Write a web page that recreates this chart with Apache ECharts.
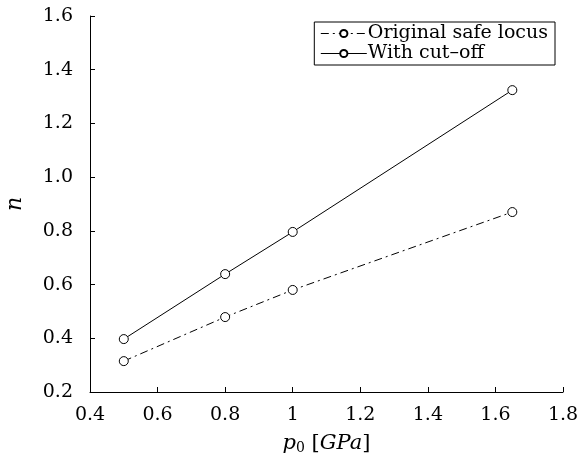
<!DOCTYPE html>
<html><head><meta charset="utf-8">
<script src="https://cdn.jsdelivr.net/npm/echarts@6/dist/echarts.min.js"></script>
<style>html,body{margin:0;padding:0;background:#fff}#c{width:588px;height:466px}</style>
</head><body><div id="c"></div>
<script>
const pressure = [0.5, 0.8, 1.0, 1.65];
const originalSafeLocus = [0.315, 0.479, 0.580, 0.870];
const withCutOff = [0.397, 0.639, 0.796, 1.324];
const seriesNames = ['Original safe locus', 'With cut\u2013off'];

const FONT = 'DejaVu Serif';
const chart = echarts.init(document.getElementById('c'));
const pairs = (xs, ys) => xs.map((x, i) => [x, ys[i]]);
const markerStyle = {color: '#fff', borderColor: '#000', borderWidth: 1};
chart.setOption({
  animation: false,
  grid: {left: 90, right: 25, top: 16, bottom: 74, containLabel: false, outerBoundsMode: 'none'},
  legend: {
    right: 33, top: 22, orient: 'vertical',
    borderColor: '#000', borderWidth: 1, padding: [2, 7, 2, 6],
    itemWidth: 46, itemHeight: 9, itemGap: 1,
    lineStyle: {width: 1},
    textStyle: {fontFamily: FONT, fontSize: 19, color: '#000', padding: [0, 0, 0, -4]},
    data: seriesNames
  },
  xAxis: {
    type: 'value', min: 0.4, max: 1.8, interval: 0.2,
    axisLine: {onZero: false, lineStyle: {color: '#000', width: 1}},
    axisTick: {inside: true, length: 5, lineStyle: {color: '#000'}},
    splitLine: {show: false},
    axisLabel: {fontFamily: FONT, fontSize: 19, color: '#000', margin: 14},
    name: '{i|p}{s|0} [{i|GPa}]', nameLocation: 'middle', nameGap: 41,
    nameTextStyle: {fontFamily: FONT, fontSize: 21, color: '#000',
      rich: {i: {fontFamily: FONT, fontStyle: 'italic', fontSize: 21},
             s: {fontFamily: FONT, fontSize: 14, verticalAlign: 'bottom', padding: [8, 0, 0, 0]}}}
  },
  yAxis: {
    type: 'value', min: 0.2, max: 1.6, interval: 0.2,
    axisLine: {show: true, onZero: false, lineStyle: {color: '#000', width: 1}},
    axisTick: {show: true, inside: true, length: 5, lineStyle: {color: '#000'}},
    splitLine: {show: false},
    axisLabel: {fontFamily: FONT, fontSize: 19, color: '#000', margin: 17,
      formatter: v => v.toFixed(1)},
    name: 'n', nameLocation: 'middle', nameGap: 64, nameRotate: 90,
    nameTextStyle: {fontFamily: FONT, fontStyle: 'italic', fontSize: 22, color: '#000'}
  },
  series: [
    {name: seriesNames[0], type: 'line', data: pairs(pressure, originalSafeLocus),
     symbol: 'circle', symbolSize: 9, itemStyle: markerStyle,
     lineStyle: {color: '#000', width: 1, type: [8, 4, 2, 4]}},
    {name: seriesNames[1], type: 'line', data: pairs(pressure, withCutOff),
     symbol: 'circle', symbolSize: 9, itemStyle: markerStyle,
     lineStyle: {color: '#000', width: 1, type: 'solid'}}
  ]
});
</script></body></html>
